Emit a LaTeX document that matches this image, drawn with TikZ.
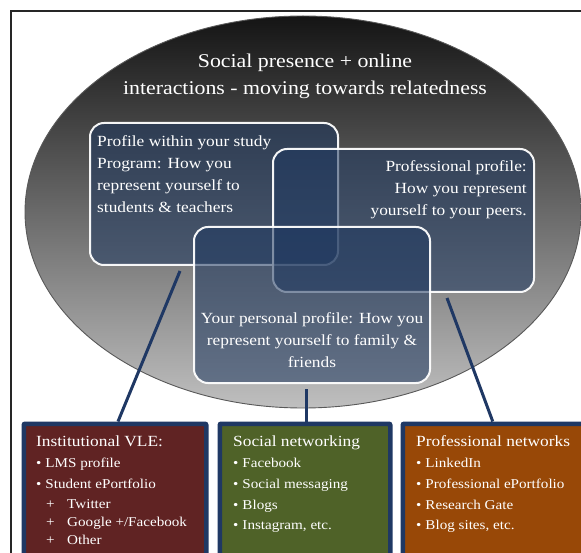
\documentclass[tikz,border=0pt]{standalone}
\usepackage{fontspec}
\setmainfont{Liberation Serif}[FakeStretch=1.12]
\definecolor{navy}{RGB}{31,56,100}
\definecolor{boxblue}{RGB}{30,56,96}
\definecolor{maroon}{RGB}{96,35,35}
\definecolor{olive}{RGB}{79,98,40}
\definecolor{rust}{RGB}{152,72,7}
\tikzset{
  profbox/.style={draw=white, line width=2pt, rounded corners=14pt, fill=boxblue,
    fill opacity=0.55, draw opacity=0.95, inner sep=0pt},
  proftext/.style={text=white, inner sep=0pt, font=\fontsize{15.5}{22}\selectfont},
  netbox/.style={draw=navy, line width=3pt, rounded corners=2pt, inner sep=0pt,
    minimum height=150pt},
  nettext/.style={text=white, inner sep=0pt, align=left, anchor=north west,
    font=\fontsize{13.5}{21}\selectfont},
  conn/.style={draw=navy, line width=3pt},
}
\newcommand{\hdrfont}{\fontsize{15.5}{21}\selectfont}
\newcommand{\bul}{\textbullet\hspace{4pt}}
\newcommand{\subit}{\hspace{10pt}+\hspace{12.5pt}}
\begin{document}
\begin{tikzpicture}[x=1pt,y=-1pt]
\useasboundingbox (0,0) rectangle (581,553);
\clip (0,0) rectangle (581,553);
\fill[white] (0,0) rectangle (581,553);
% frame
\draw[line width=2pt, black!85] (11,11) rectangle (620,620);
% ellipse
\shade[top color=black!92, middle color=black!47, bottom color=black!25]
  (303,212) ellipse [x radius=278pt, y radius=196pt];
\draw[black!65, line width=0.9pt] (303,212) ellipse [x radius=278pt, y radius=196pt];
% title
\node[text=white, inner sep=0pt, align=center, anchor=north,
  font=\fontsize{19.5}{27}\selectfont] (title) at (305,54)
  {Social presence + online\\interactions - moving towards relatedness};
% profile boxes
\node[profbox, minimum width=248pt, minimum height=142pt] (study) at (214,194) {};
\node[profbox, minimum width=261pt, minimum height=143pt] (prof) at (403.5,220.5) {};
\node[profbox, minimum width=236pt, minimum height=156pt] (personal) at (312,305) {};
% profile texts
\node[proftext, align=left, anchor=north west] (studytext) at (97,135)
  {Profile within your study\\Program: How you\\represent yourself to\\students \& teachers};
\node[proftext, align=right, anchor=north east] (proftxt) at (527,160)
  {Professional profile:\\How you represent\\yourself to your peers.};
\node[proftext, align=center, anchor=north] (perstext) at (312,312)
  {Your personal profile: How you\\represent yourself to family \&\\friends};
% bottom boxes
\node[netbox, fill=maroon, minimum width=181pt] (vle) at (115,499.5) {};
\node[netbox, fill=olive, minimum width=169pt] (social) at (305,499.5) {};
\node[netbox, fill=rust, minimum width=196.5pt] (pronet) at (501.75,499.5) {};
% connectors
\draw[conn] ([xshift=-34pt,yshift=-5pt]study.south) -- ([xshift=3pt,yshift=1.5pt]vle.north);
\draw[conn] ([xshift=-6pt,yshift=-5pt]personal.south) -- ([xshift=1pt,yshift=1.5pt]social.north);
\draw[conn] ([xshift=43.5pt,yshift=-5pt]prof.south) -- ([xshift=-9pt,yshift=1.5pt]pronet.north);
% redraw bottom box borders over connector ends
\draw[navy, line width=3pt, rounded corners=2pt] (vle.south west) rectangle (vle.north east);
\draw[navy, line width=3pt, rounded corners=2pt] (social.south west) rectangle (social.north east);
\draw[navy, line width=3pt, rounded corners=2pt] (pronet.south west) rectangle (pronet.north east);
% bottom texts
\node[nettext] (vletext) at (36,435.5)
  {{\hdrfont Institutional VLE:}\\
   \bul LMS profile\\
   \bul Student ePortfolio\\[-1pt]
   \subit Twitter\\[-3pt]
   \subit Google +/Facebook\\[-3pt]
   \subit Other};
\node[nettext] (socialtext) at (233,435.5)
  {{\hdrfont Social networking}\\
   \bul Facebook\\
   \bul Social messaging\\
   \bul Blogs\\[-1pt]
   \bul Instagram, etc.};
\node[nettext] (pronettext) at (416,435.5)
  {{\hdrfont Professional networks}\\
   \bul LinkedIn\\
   \bul Professional ePortfolio\\
   \bul Research Gate\\[-1pt]
   \bul Blog sites, etc.};
\end{tikzpicture}
\end{document}
